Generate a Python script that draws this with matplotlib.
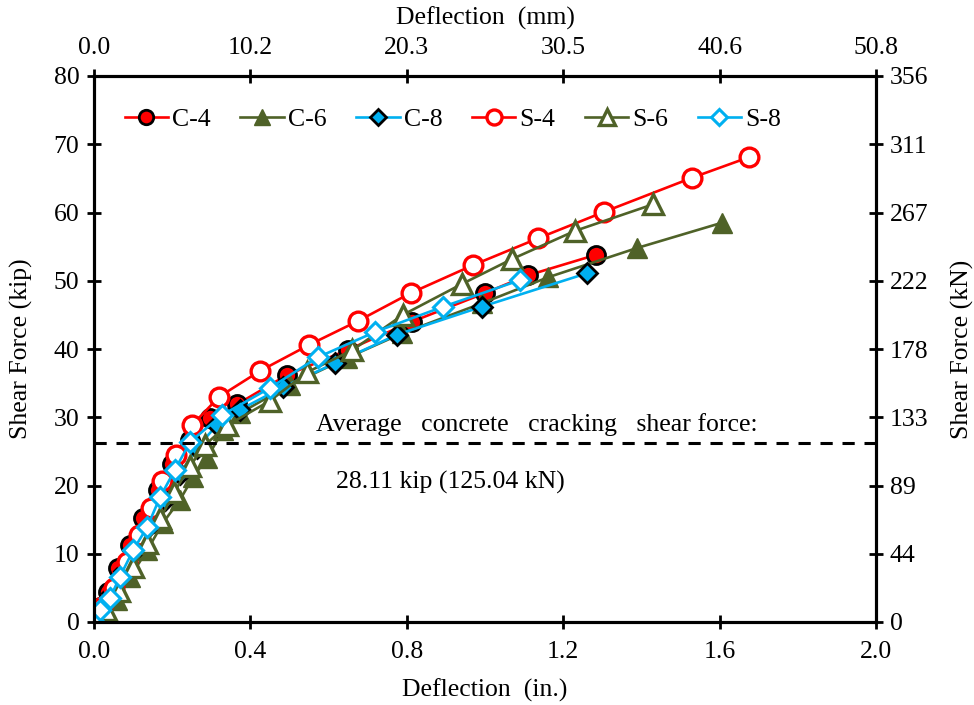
import numpy as np
import matplotlib
matplotlib.use("Agg")
import matplotlib.pyplot as plt

plt.rcParams['font.family'] = ['Liberation Serif', 'DejaVu Serif']

# Deflection (in.) and shear force (kip) for each specimen
c4_x = [0, 0.015, 0.036, 0.061, 0.092, 0.125, 0.164, 0.199, 0.246, 0.297, 0.366,
        0.494, 0.65, 0.813, 1.0, 1.11, 1.284]
c4_y = [0, 2.2, 4.4, 7.9, 11.3, 15.2, 19.3, 23.2, 26.7, 29.9, 31.9,
        36.2, 39.9, 44.0, 48.2, 50.8, 53.8]

c6_x = [0, 0.023, 0.059, 0.092, 0.136, 0.176, 0.22, 0.253, 0.289, 0.33, 0.373,
        0.5, 0.647, 0.788, 0.992, 1.161, 1.389, 1.606]
c6_y = [0, 1.3, 3.2, 6.6, 10.5, 14.5, 17.9, 21.2, 24.0, 28.1, 30.6,
        34.7, 38.7, 42.3, 46.7, 50.5, 54.8, 58.5]

c8_x = [0, 0.015, 0.046, 0.077, 0.11, 0.146, 0.182, 0.22, 0.263, 0.315, 0.373,
        0.483, 0.616, 0.775, 0.992, 1.261]
c8_y = [0, 1.5, 4.2, 7.5, 10.8, 14.4, 17.9, 21.7, 25.5, 28.9, 31.1,
        34.4, 37.9, 42.1, 46.2, 51.1]

s4_x = [0, 0.02, 0.05, 0.085, 0.115, 0.145, 0.175, 0.21, 0.25, 0.32, 0.425,
        0.55, 0.675, 0.81, 0.97, 1.135, 1.305, 1.53, 1.675]
s4_y = [0, 2.2, 5.0, 8.8, 12.8, 16.7, 20.6, 24.5, 28.8, 33.0, 36.8,
        40.6, 44.1, 48.2, 52.3, 56.2, 60.1, 65.1, 68.1]

s6_x = [0, 0.03, 0.065, 0.1, 0.135, 0.17, 0.205, 0.245, 0.285, 0.34, 0.45,
        0.545, 0.66, 0.79, 0.94, 1.07, 1.23, 1.43]
s6_y = [0, 1.8, 4.6, 8.0, 11.6, 15.2, 19.0, 22.8, 26.0, 28.8, 32.4,
        36.6, 39.8, 45.0, 49.5, 53.2, 57.3, 61.2]

s8_x = [0, 0.015, 0.041, 0.066, 0.1, 0.136, 0.169, 0.207, 0.246, 0.327, 0.45,
        0.573, 0.719, 0.893, 1.09]
s8_y = [0, 1.8, 3.5, 6.6, 10.5, 13.9, 18.3, 22.3, 26.4, 30.3, 34.3,
        38.8, 42.5, 46.2, 50.1]

crack_kip = 26.2
kip_ticks = [0, 10, 20, 30, 40, 50, 60, 70, 80]
kn_labels = ['0', '44', '89', '133', '178', '222', '267', '311', '356']
in_ticks = [0.0, 0.4, 0.8, 1.2, 1.6, 2.0]
mm_labels = ['0.0', '10.2', '20.3', '30.5', '40.6', '50.8']

red = '#FF0000'
olive = '#4F6228'
blue = '#00B0F0'
fs = 18.5

fig = plt.figure(figsize=(9.74, 7.05), dpi=100)
ax = fig.add_axes([94 / 974, 83 / 705, 782 / 974, 546 / 705])

lw = 1.9
ax.plot(c4_x, c4_y, color=red, lw=lw, marker='o', ms=13, mfc=red, mec='black', mew=2, label='C-4')
ax.plot(c6_x, c6_y, color=olive, lw=lw, marker='^', ms=14, mfc=olive, mec=olive, mew=1, label='C-6')
ax.plot(c8_x, c8_y, color=blue, lw=lw, marker='D', ms=10.5, mfc=blue, mec='black', mew=2, label='C-8')
ax.plot(s4_x, s4_y, color=red, lw=lw, marker='o', ms=13.5, mfc='white', mec=red, mew=2.4, label='S-4')
ax.plot(s6_x, s6_y, color=olive, lw=lw, marker='^', ms=14, mfc='white', mec=olive, mew=2.4, label='S-6')
ax.plot(s8_x, s8_y, color=blue, lw=lw, marker='D', ms=10.5, mfc='white', mec=blue, mew=2.2, label='S-8')

ax.axhline(crack_kip, color='black', lw=2.2, dashes=(4, 3.2))
ax.text(1.133, 28.9, 'Average   concrete   cracking   shear force:', ha='center', va='center', fontsize=fs)
ax.text(0.62, 20.4, '28.11 kip (125.04 kN)', ha='left', va='center', fontsize=fs)

ax.set_xlim(0, 2.0)
ax.set_ylim(0, 80)
ax.set_xticks(in_ticks)
ax.set_xticklabels(['%.1f' % v for v in in_ticks])
ax.set_yticks(kip_ticks)
ax.set_xlabel('Deflection  (in.)', fontsize=fs, labelpad=11)
ax.set_ylabel('Shear Force (kip)', fontsize=fs, labelpad=15)

ax_r = ax.twinx()
ax_r.set_ylim(0, 80)
ax_r.set_yticks(kip_ticks)
ax_r.set_yticklabels(kn_labels)
ax_r.set_ylabel('Shear Force (kN)', fontsize=fs, labelpad=16)

ax_t = ax.twiny()
ax_t.set_xlim(0, 2.0)
ax_t.set_xticks(in_ticks)
ax_t.set_xticklabels(mm_labels)
ax_t.set_xlabel('Deflection  (mm)', fontsize=fs, labelpad=9)

for a in (ax, ax_r, ax_t):
    for s in a.spines.values():
        s.set_linewidth(2.2)
    a.tick_params(direction='inout', length=10, width=2, labelsize=fs)
ax.tick_params(axis='x', pad=9)
ax.tick_params(axis='y', pad=5.5)
ax_r.tick_params(axis='y', pad=5)
ax_t.tick_params(axis='x', pad=7)

ax.legend(loc='center left', bbox_to_anchor=(0.026, 0.92), ncol=6, frameon=False,
          fontsize=fs, handlelength=1.7, handletextpad=0.15, columnspacing=1.15,
          borderaxespad=0.0, markerscale=0.8)

fig.savefig('out.png', dpi=100)
